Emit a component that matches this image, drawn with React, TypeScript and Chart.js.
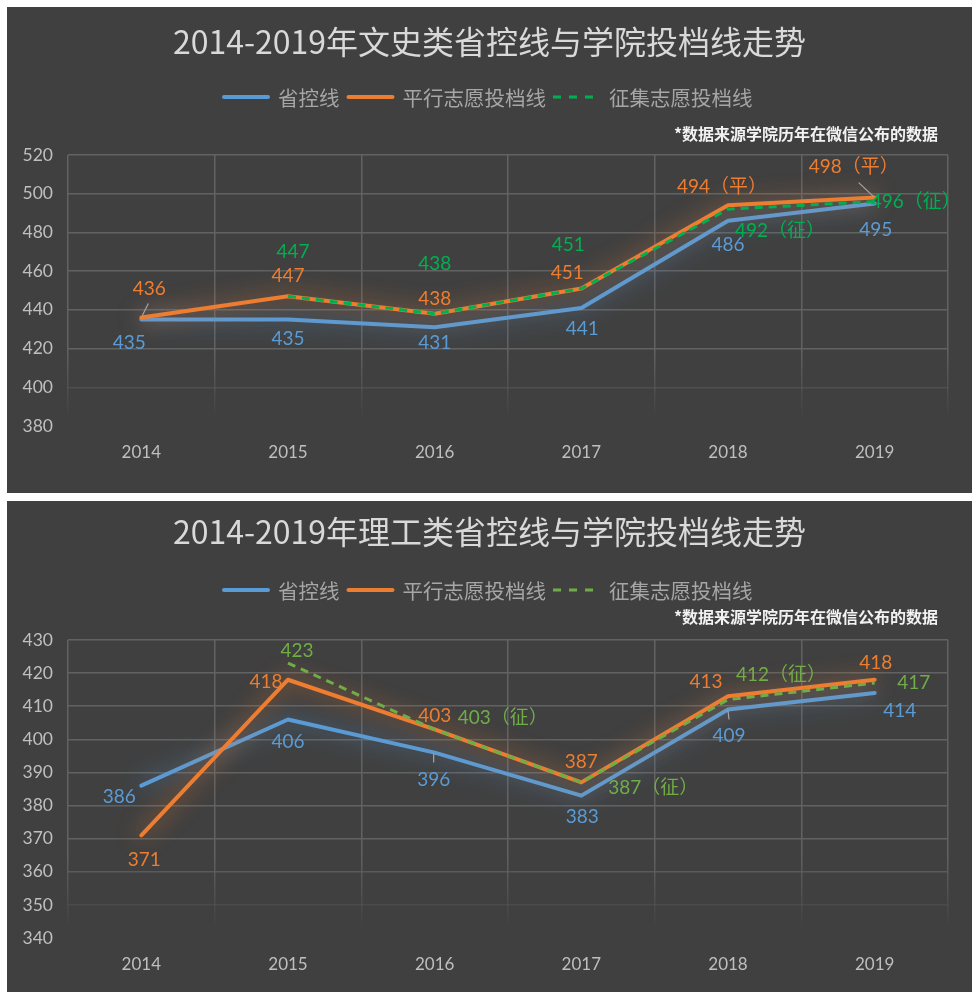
import React, { useEffect, useRef } from 'react';
import { Chart, registerables } from 'chart.js';

Chart.register(...registerables);

// ---------- data ----------
const years = ['2014', '2015', '2016', '2017', '2018', '2019'];
const seriesNames = ['省控线', '平行志愿投档线', '征集志愿投档线'];
const noteText = '*数据来源学院历年在微信公布的数据';

const artsTitle = '2014-2019年文史类省控线与学院投档线走势';
const artsProvince = [435, 435, 431, 441, 486, 495];
const artsParallel = [436, 447, 438, 451, 494, 498];
const artsSupplement = [null, 447, 438, 451, 492, 496];
const artsProvinceSuffix = ['', '', '', '', '', ''];
const artsParallelSuffix = ['', '', '', '', '（平）', '（平）'];
const artsSupplementSuffix = ['', '', '', '', '（征）', '（征）'];
const artsYMin = 380;
const artsYMax = 520;
const artsYStep = 20;

const sciTitle = '2014-2019年理工类省控线与学院投档线走势';
const sciProvince = [386, 406, 396, 383, 409, 414];
const sciParallel = [371, 418, 403, 387, 413, 418];
const sciSupplement = [null, 423, 403, 387, 412, 417];
const sciProvinceSuffix = ['', '', '', '', '', ''];
const sciParallelSuffix = ['', '', '', '', '', ''];
const sciSupplementSuffix = ['', '', '（征）', '（征）', '（征）', ''];
const sciYMin = 340;
const sciYMax = 430;
const sciYStep = 10;

// ---------- styling / layout ----------
const BG = '#404040';
const BLUE = '#5b9bd5';
const ORANGE = '#ed7d31';
const W = 965;
const AREA_LEFT = 61;
const AREA_RIGHT = 941;
const GRID_RGB = '98,98,98';
const LEGEND_START = 215;

type Off = [number, number] | null;

const panels = [
  {
    top: 7,
    height: 486,
    titleY: 35,
    legendY: 90,
    noteY: 127,
    areaTop: 148,
    areaBottom: 419,
    title: artsTitle,
    green: '#00b050',
    min: artsYMin,
    max: artsYMax,
    step: artsYStep,
    values: [artsProvince, artsParallel, artsSupplement],
    suffixes: [artsProvinceSuffix, artsParallelSuffix, artsSupplementSuffix],
    offsets: [
      [[-12, 23.5], [0, 19], [0, 16], [1, 21], [0, 24], [1, 26]],
      [[8, -29], [0, -20], [0, -15], [-14, -16], [-6, -18], [-21, -31]],
      [null, [5, -44], [0, -50], [-13, -44], [52, 22], [41, 0]],
    ] as Off[][],
    leaders: [
      { ds: 1, i: 0, seg: [1, -2, 7, -14] },
      { ds: 1, i: 5, seg: [-1, -1, -16, -15] },
    ],
  },
  {
    top: 501,
    height: 491,
    titleY: 31,
    legendY: 89,
    noteY: 116,
    areaTop: 139,
    areaBottom: 437,
    title: sciTitle,
    green: '#70ad47',
    min: sciYMin,
    max: sciYMax,
    step: sciYStep,
    values: [sciProvince, sciParallel, sciSupplement],
    suffixes: [sciProvinceSuffix, sciParallelSuffix, sciSupplementSuffix],
    offsets: [
      [[-22, 11], [0, 22], [-1, 27], [1, 21], [1, 26], [25, 18]],
      [[3, 25], [-22, 2], [0, -14], [0, -21], [-22, -14], [1, -17]],
      [null, [9, -12], [68, -12], [72, 5], [53, -25], [39, 0]],
    ] as Off[][],
    leaders: [
      { ds: 0, i: 2, seg: [-1, 1, -1, 10] },
      { ds: 0, i: 4, seg: [0, 1, 1, 10] },
    ],
  },
];

type PanelCfg = (typeof panels)[number];

function fadeAlpha(f: number) {
  if (f <= 0.72) return 1;
  return Math.max(0, 1 - (f - 0.72) / 0.25);
}

function makePlugin(cfg: PanelCfg) {
  const colors = [BLUE, ORANGE, cfg.green];
  const glow = ['rgba(91,155,213,0.85)', 'rgba(237,125,49,0.85)', 'rgba(0,0,0,0)'];
  return {
    id: 'decor',
    beforeDraw(chart: any) {
      const ctx = chart.ctx;
      ctx.save();
      ctx.fillStyle = BG;
      ctx.fillRect(0, 0, chart.width, chart.height);
      ctx.restore();
    },
    beforeDatasetDraw(chart: any, args: any) {
      const ctx = chart.ctx;
      ctx.save();
      ctx.shadowColor = glow[args.index];
      ctx.shadowBlur = 22;
      ctx.shadowOffsetX = 0;
      ctx.shadowOffsetY = 0;
    },
    afterDatasetDraw(chart: any) {
      chart.ctx.restore();
    },
    afterDraw(chart: any) {
      const ctx = chart.ctx;
      ctx.save();
      // title
      ctx.fillStyle = '#d9d9d9';
      ctx.font = '32px "Noto Sans CJK SC", sans-serif';
      ctx.textAlign = 'center';
      ctx.textBaseline = 'middle';
      ctx.fillText(cfg.title, chart.width / 2, cfg.titleY);

      // legend
      ctx.font = '20.5px "Noto Sans CJK SC", sans-serif';
      const lineLen = 48;
      const gapToText = 8;
      const gapItem = 7;
      let x = LEGEND_START;
      const ly = cfg.legendY;
      seriesNames.forEach((n, k) => {
        ctx.save();
        ctx.strokeStyle = colors[k];
        if (k === 2) {
          ctx.lineWidth = 3;
          ctx.setLineDash([8, 8]);
          ctx.lineCap = 'butt';
          ctx.beginPath();
          ctx.moveTo(x, ly);
          ctx.lineTo(x + lineLen, ly);
          ctx.stroke();
        } else {
          ctx.lineWidth = 4;
          ctx.lineCap = 'round';
          ctx.beginPath();
          ctx.moveTo(x + 2, ly);
          ctx.lineTo(x + lineLen - 2, ly);
          ctx.stroke();
        }
        ctx.restore();
        x += lineLen + gapToText;
        ctx.fillStyle = '#a6a6a6';
        ctx.textAlign = 'left';
        ctx.fillText(n, x, ly + 1);
        x += ctx.measureText(n).width + gapItem;
      });

      // note
      ctx.font = 'bold 16px "Noto Sans CJK SC", sans-serif';
      ctx.fillStyle = '#f2f2f2';
      ctx.textAlign = 'right';
      ctx.fillText(noteText, 931, cfg.noteY);

      // leader lines
      ctx.strokeStyle = '#a6a6a6';
      ctx.lineWidth = 1.2;
      cfg.leaders.forEach((l) => {
        const el = chart.getDatasetMeta(l.ds).data[l.i];
        if (!el) return;
        ctx.beginPath();
        ctx.moveTo(el.x + l.seg[0], el.y + l.seg[1]);
        ctx.lineTo(el.x + l.seg[2], el.y + l.seg[3]);
        ctx.stroke();
      });

      // data labels
      ctx.font = '19px Lato, "Noto Sans CJK SC", sans-serif';
      ctx.textAlign = 'center';
      ctx.textBaseline = 'middle';
      cfg.values.forEach((vals, ds) => {
        const meta = chart.getDatasetMeta(ds);
        vals.forEach((v, i) => {
          const off = cfg.offsets[ds][i];
          if (v === null || !off) return;
          const el = meta.data[i];
          if (!el) return;
          ctx.fillStyle = colors[ds];
          ctx.fillText(String(v) + cfg.suffixes[ds][i], el.x + off[0], el.y + off[1]);
        });
      });
      ctx.restore();
    },
  };
}

function ChartPanel({ cfg }: { cfg: PanelCfg }) {
  const ref = useRef<HTMLCanvasElement>(null);
  useEffect(() => {
    if (!ref.current) return;
    const range = cfg.max - cfg.min;
    const chart = new Chart(ref.current, {
      type: 'line',
      data: {
        labels: years,
        datasets: [
          {
            label: seriesNames[0],
            data: cfg.values[0],
            borderColor: BLUE,
            backgroundColor: BLUE,
            borderWidth: 4,
            pointRadius: 0,
            borderCapStyle: 'round',
            borderJoinStyle: 'round',
            order: 3,
          },
          {
            label: seriesNames[1],
            data: cfg.values[1],
            borderColor: ORANGE,
            backgroundColor: ORANGE,
            borderWidth: 4,
            pointRadius: 0,
            borderCapStyle: 'round',
            borderJoinStyle: 'round',
            order: 2,
          },
          {
            label: seriesNames[2],
            data: cfg.values[2],
            borderColor: cfg.green,
            backgroundColor: cfg.green,
            borderWidth: 3,
            borderDash: [8, 6],
            pointRadius: 0,
            order: 1,
          },
        ],
      } as any,
      options: {
        responsive: false,
        animation: false,
        events: [],
        layout: { padding: { top: cfg.areaTop, right: W - AREA_RIGHT, left: 0, bottom: 0 } },
        plugins: {
          legend: { display: false },
          title: { display: false },
          tooltip: { enabled: false },
        },
        scales: {
          x: {
            type: 'category',
            offset: true,
            grid: {
              offset: true,
              drawTicks: false,
              lineWidth: 1.5,
              color: (c: any) => {
                const ca = c.chart.chartArea;
                if (!ca) return `rgba(${GRID_RGB},1)`;
                const g = c.chart.ctx.createLinearGradient(0, ca.top, 0, ca.bottom);
                g.addColorStop(0, `rgba(${GRID_RGB},1)`);
                g.addColorStop(0.72, `rgba(${GRID_RGB},1)`);
                g.addColorStop(0.97, `rgba(${GRID_RGB},0)`);
                g.addColorStop(1, `rgba(${GRID_RGB},0)`);
                return g;
              },
            },
            border: { display: false },
            ticks: {
              color: '#bfbfbf',
              font: { family: 'Lato', size: 17 },
              padding: 16,
              maxRotation: 0,
            },
            afterFit: (s: any) => {
              s.height = cfg.height - cfg.areaBottom;
            },
          },
          y: {
            min: cfg.min,
            max: cfg.max,
            grid: {
              drawTicks: false,
              lineWidth: 1.5,
              color: (c: any) => {
                const v = c.tick ? c.tick.value : cfg.max;
                const f = (cfg.max - v) / range;
                return `rgba(${GRID_RGB},${fadeAlpha(f)})`;
              },
            },
            border: { display: false },
            ticks: {
              stepSize: cfg.step,
              color: '#bfbfbf',
              font: { family: 'Lato', size: 17.5 },
              padding: 15,
            },
            afterFit: (s: any) => {
              s.width = AREA_LEFT;
            },
          },
        },
      } as any,
      plugins: [makePlugin(cfg)],
    });
    return () => chart.destroy();
  }, []);
  return (
    <canvas
      ref={ref}
      width={W}
      height={cfg.height}
      style={{ position: 'absolute', left: 7, top: cfg.top, width: W, height: cfg.height }}
    />
  );
}

export default function App() {
  return (
    <div style={{ position: 'absolute', left: 0, top: 0, width: 979, height: 999, background: '#ffffff' }}>
      {panels.map((p, k) => (
        <ChartPanel key={k} cfg={p} />
      ))}
    </div>
  );
}
